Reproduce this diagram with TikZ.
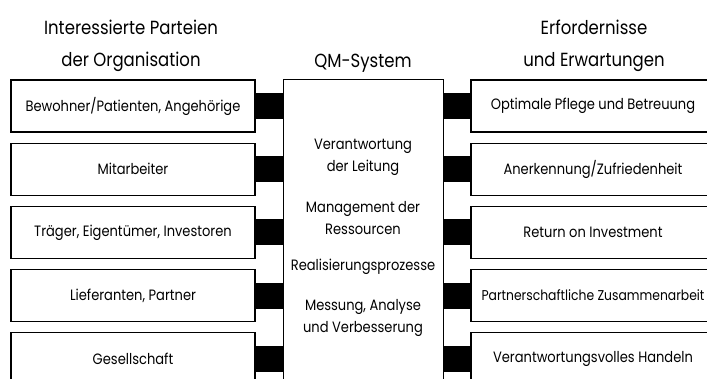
\documentclass[tikz,border=0pt]{standalone}
\usepackage{fontspec}
\setmainfont{Poppins}[FakeStretch=0.87]
\begin{document}
\begin{tikzpicture}[x=1pt, y=-1pt,
    every node/.style={font=\fontsize{15}{22}\selectfont, align=center},
    heading/.style={font=\fontsize{19}{32}\selectfont},
    sidebox/.style={draw=black, line width=1.1pt, minimum width=244pt,
        minimum height=52pt, inner sep=0pt},
    qmbox/.style={draw=black, line width=1.1pt, minimum width=160pt,
        minimum height=340pt, inner sep=0pt, anchor=north west},
    link/.style={draw=black, line width=26pt}]
    \useasboundingbox (0,0) rectangle (707,379);
    \clip (0,0) rectangle (707,379);
    \node[heading] (hparty) at (131,46) {Interessierte Parteien\\der Organisation};
    \node[heading] (hqm) at (363,63) {QM-System};
    \node[heading] (hneed) at (594,46) {Erfordernisse\\und Erwartungen};
    \node[qmbox] (qm) at (283,79) {};
    \foreach \txt [count=\i] in {{Bewohner/Patienten, Angehörige}, Mitarbeiter,
        {Träger, Eigentümer, Investoren}, {Lieferanten, Partner}, Gesellschaft}
    \node[sidebox] (party\i) at (133,{106+63.2*(\i-1)}) {\txt};
    \foreach \txt [count=\i] in {Optimale Pflege und Betreuung,
        Anerkennung/Zufriedenheit, Return on Investment,
        {\fontsize{14.2}{22}\selectfont Partnerschaftliche Zusammenarbeit},
        Verantwortungsvolles Handeln}
    \node[sidebox] (need\i) at (593,{106+63.2*(\i-1)}) {\txt};
    \foreach \i in {1,...,5} {
        \draw[link] (party\i.east) -- (party\i.east -| qm.west);
        \draw[link] (qm.east |- need\i.west) -- (need\i.west);
    }
    \node (lead) at (363,157) {Verantwortung\\der Leitung};
    \node (res) at (363,218) {Management der\\Ressourcen};
    \node (real) at (363,267) {Realisierungsprozesse};
    \node (meas) at (363,318) {Messung, Analyse\\und Verbesserung};
\end{tikzpicture}
\end{document}
